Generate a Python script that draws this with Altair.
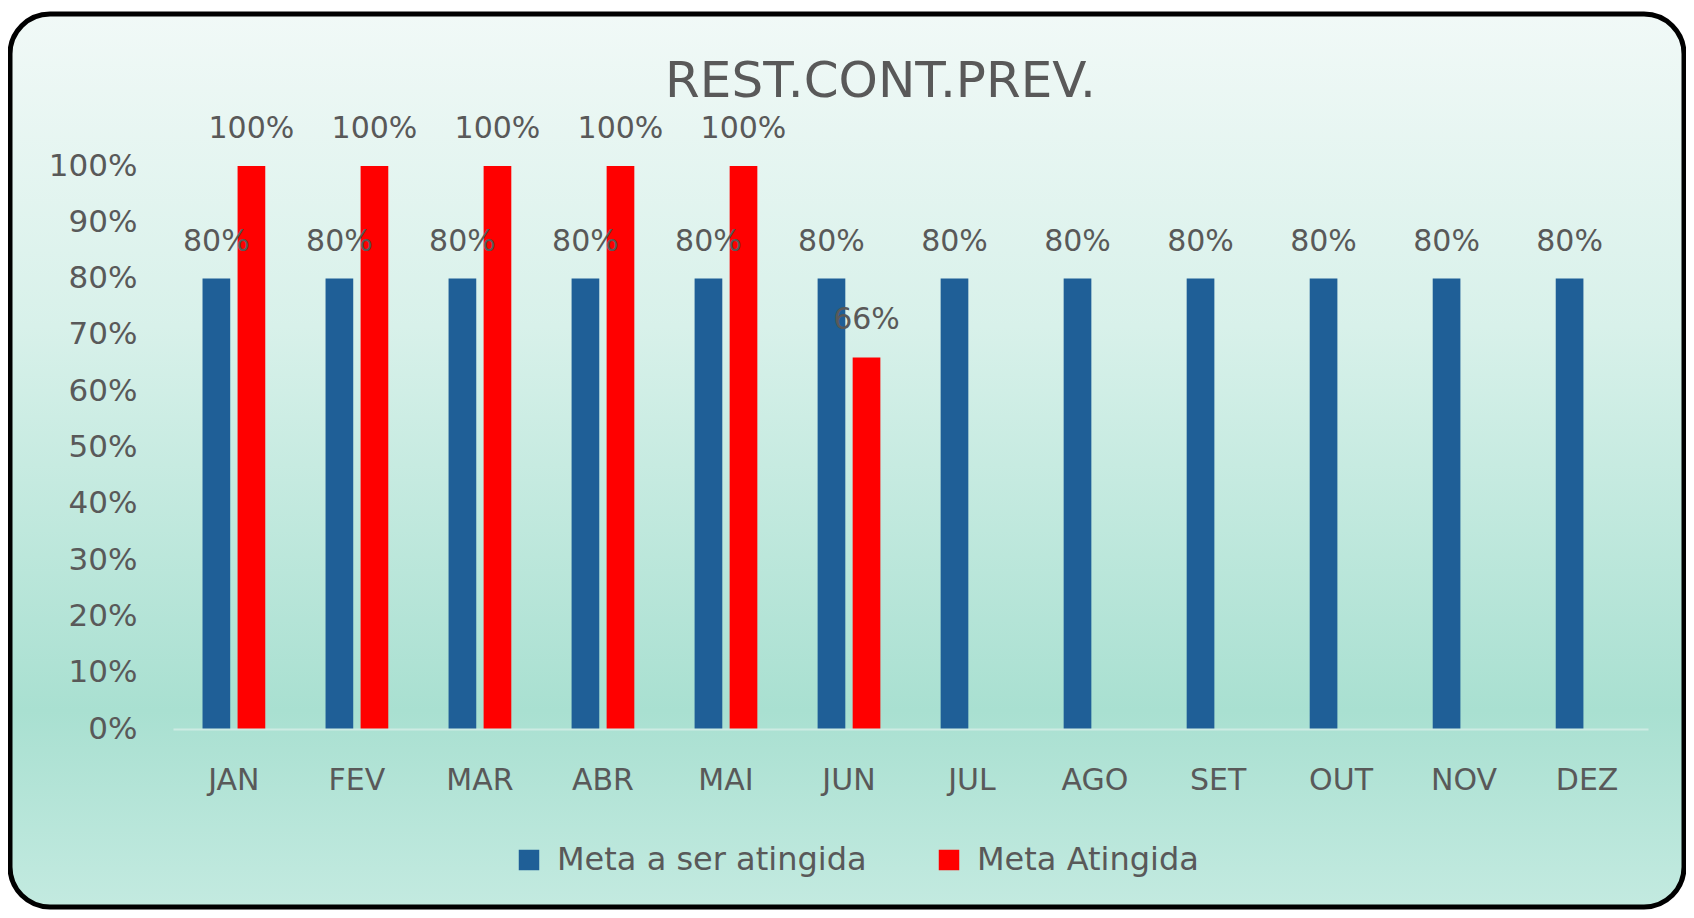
import altair as alt
import pandas as pd

months = ["JAN", "FEV", "MAR", "ABR", "MAI", "JUN", "JUL", "AGO", "SET", "OUT", "NOV", "DEZ"]
meta_alvo = [0.80, 0.80, 0.80, 0.80, 0.80, 0.80, 0.80, 0.80, 0.80, 0.80, 0.80, 0.80]
meta_atingida = [1.00, 1.00, 1.00, 1.00, 1.00, 0.66]
series = ["Meta a ser atingida", "Meta Atingida"]
series_colors = ["#1F5F97", "#FF0000"]
y_ticks = [0.0, 0.1, 0.2, 0.3, 0.4, 0.5, 0.6, 0.7, 0.8, 0.9, 1.0]
chart_title = "REST.CONT.PREV."

rows = []
for m, v in zip(months, meta_alvo):
    rows.append({"mes": m, "serie": series[0], "valor": v})
for m, v in zip(months, meta_atingida):
    rows.append({"mes": m, "serie": series[1], "valor": v})
df = pd.DataFrame(rows)

FONT = "DejaVu Sans"
GREY = "#595959"
W, H = 1475, 563

one = pd.DataFrame({"t": [chart_title]})

bg = alt.Chart(one).mark_rect(
    fill=alt.Gradient(
        gradient="linear", x1=0, x2=0, y1=0, y2=1,
        stops=[
            alt.GradientStop(color="#f1f9f7", offset=0),
            alt.GradientStop(color="#d8f1ea", offset=0.35),
            alt.GradientStop(color="#a9e0d1", offset=0.78),
            alt.GradientStop(color="#c3eae0", offset=1),
        ],
    ),
    stroke="black", strokeWidth=5, cornerRadius=40,
).encode(
    x=alt.value(-163), x2=alt.value(1511),
    y=alt.value(-152), y2=alt.value(741),
)

title = alt.Chart(one).mark_text(
    font=FONT, fontSize=50, color=GREY, align="center", baseline="alphabetic",
).encode(
    x=alt.value(W / 2 - 30), y=alt.value(-69), text="t:N",
)

base = alt.Chart(df).encode(
    x=alt.X("mes:N", sort=months, title=None,
            scale=alt.Scale(paddingInner=0.49, paddingOuter=0.24),
            axis=alt.Axis(labelAngle=0, labelFont=FONT, labelFontSize=30, labelColor=GREY,
                          labelPadding=36, ticks=False, domain=True, domainColor="#cdebe3",
                          domainWidth=2, labelBaseline="top", zindex=1)),
    xOffset=alt.XOffset("serie:N", sort=series, scale=alt.Scale(paddingInner=0.21)),
    y=alt.Y("valor:Q", title=None, scale=alt.Scale(domain=[0, 1]),
            axis=alt.Axis(values=y_ticks, format=".0%", labelFont=FONT, labelFontSize=31,
                          labelColor=GREY, labelPadding=36, ticks=False, domain=False,
                          grid=False, zindex=1)),
)

bars = base.mark_bar().encode(
    color=alt.Color("serie:N", sort=series,
                    scale=alt.Scale(domain=series, range=series_colors),
                    legend=alt.Legend(title=None, orient="none", direction="horizontal",
                                      legendX=340, legendY=678, symbolType="square",
                                      symbolSize=420, labelFont=FONT, labelFontSize=32,
                                      labelColor=GREY, labelOffset=12, columnPadding=66,
                                      labelLimit=600, symbolStrokeWidth=0)),
)

labels = base.mark_text(font=FONT, fontSize=30, color=GREY, dy=-37,
                        baseline="middle", align="center").encode(
    text=alt.Text("valor:Q", format=".0%"),
)

chart = alt.layer(bg, title, bars, labels).properties(
    width=W, height=H,
    autosize=alt.AutoSizeParams(type="none"),
    padding={"left": 165, "top": 158, "right": 38, "bottom": 181},
).configure_view(stroke=None).configure(background="white")

chart.save("out.html", embed_options={"renderer": "svg", "actions": False})
